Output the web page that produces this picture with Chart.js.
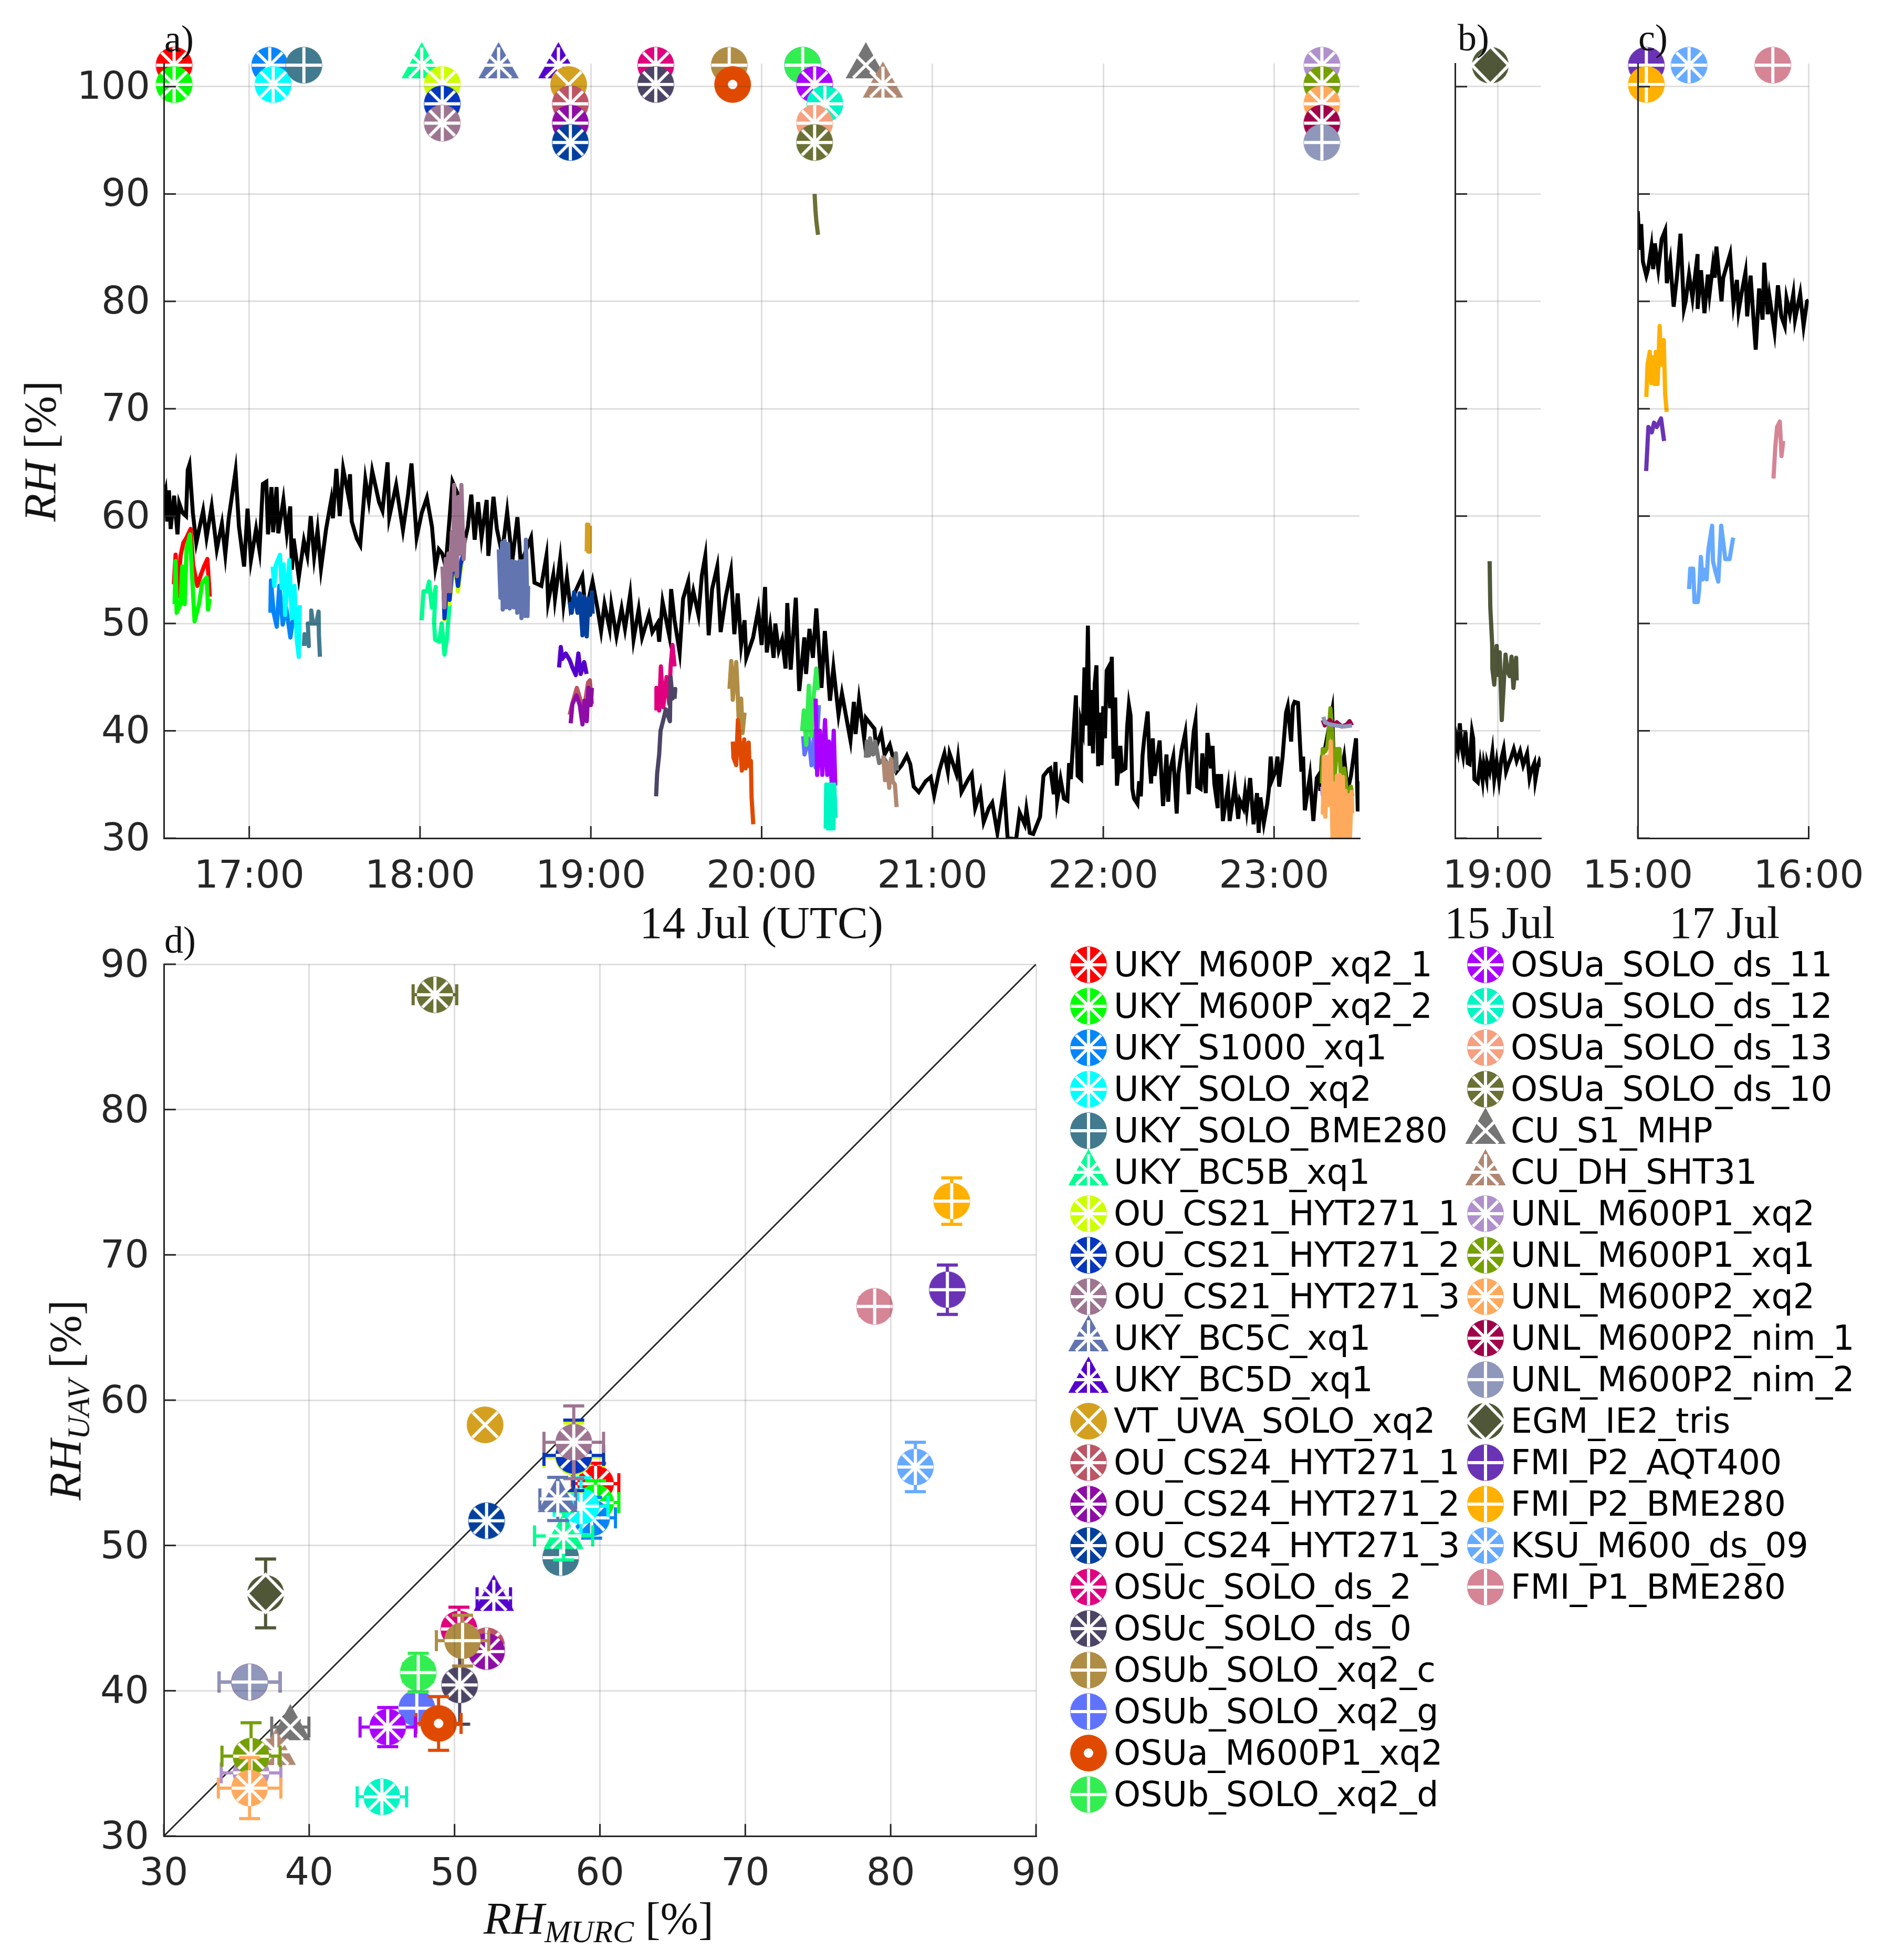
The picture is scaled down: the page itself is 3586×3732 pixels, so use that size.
<!DOCTYPE html>
<html>
<head>
<meta charset="utf-8">
<script src="https://cdn.jsdelivr.net/npm/chart.js@4"></script>
<style>
    body { margin: 0; background: #fff; width: 3586px; height: 3732px; position: relative; overflow: hidden; }
    canvas { position: absolute; }
    .serif { position: absolute; font-family: "Liberation Serif", serif; color: #111; line-height: 1; white-space: nowrap; }
    .axisName { font-size: 87px; transform: translate(-50%, -50%); }
    .axisName.turned { transform: translate(-50%, -50%) rotate(-90deg); }
    .axisName span { font-size: 60px; font-style: italic; position: relative; top: 16px; }
    .panelTag { font-size: 72px; }
    .row { position: absolute; height: 80px; font: 65px/80px "DejaVu Sans"; color: #000; white-space: nowrap; }
</style>
</head>
<body>
<canvas id="chartA"></canvas>
<canvas id="chartB"></canvas>
<canvas id="chartC"></canvas>
<canvas id="chartD"></canvas>
<div class="serif axisName turned" style="left:76px;top:859px"><i>RH</i> [%]</div>
<div class="serif axisName turned" style="left:124px;top:2666px"><i>RH</i><span>UAV</span> [%]</div>
<div class="serif axisName" style="left:1140px;top:3652px"><i>RH</i><span>MURC</span> [%]</div>
<div class="serif axisName" style="left:1450px;top:1756px">14 Jul (UTC)</div>
<div class="serif axisName" style="left:2856px;top:1756px">15 Jul</div>
<div class="serif axisName" style="left:3284px;top:1756px">17 Jul</div>
<div class="serif panelTag" style="left:313px;top:38px">a)</div>
<div class="serif panelTag" style="left:2776px;top:36px">b)</div>
<div class="serif panelTag" style="left:3120px;top:36px">c)</div>
<div class="serif panelTag" style="left:313px;top:1754px">d)</div>
<div id="legend"></div>
<script>
// tick labels
const hourTicksA = [17, 18, 19, 20, 21, 22, 23];
const hourTicksB = [19];
const hourTicksC = [15, 16];
const rhTicks = [30, 40, 50, 60, 70, 80, 90, 100];
const scatterTicks = [30, 40, 50, 60, 70, 80, 90];

const names = ['UKY_M600P_xq2_1', 'UKY_M600P_xq2_2', 'UKY_S1000_xq1', 'UKY_SOLO_xq2', 'UKY_SOLO_BME280', 'UKY_BC5B_xq1',
    'OU_CS21_HYT271_1', 'OU_CS21_HYT271_2', 'OU_CS21_HYT271_3', 'UKY_BC5C_xq1', 'UKY_BC5D_xq1', 'VT_UVA_SOLO_xq2',
    'OU_CS24_HYT271_1', 'OU_CS24_HYT271_2', 'OU_CS24_HYT271_3', 'OSUc_SOLO_ds_2', 'OSUc_SOLO_ds_0', 'OSUb_SOLO_xq2_c',
    'OSUb_SOLO_xq2_g', 'OSUa_M600P1_xq2', 'OSUb_SOLO_xq2_d', 'OSUa_SOLO_ds_11', 'OSUa_SOLO_ds_12', 'OSUa_SOLO_ds_13',
    'OSUa_SOLO_ds_10', 'CU_S1_MHP', 'CU_DH_SHT31', 'UNL_M600P1_xq2', 'UNL_M600P1_xq1', 'UNL_M600P2_xq2',
    'UNL_M600P2_nim_1', 'UNL_M600P2_nim_2', 'EGM_IE2_tris', 'FMI_P2_AQT400', 'FMI_P2_BME280', 'KSU_M600_ds_09', 'FMI_P1_BME280'];
const colors = ['#ff0000', '#00ff00', '#0685fa', '#00ffff', '#427a8f', '#00ff91',
    '#ccff00', '#0436bf', '#9e7590', '#6275b0', '#5500cc', '#d4a020',
    '#bd5565', '#8f0ca6', '#03409e', '#e0007f', '#4d4566', '#b08d45',
    '#6073ff', '#e04a00', '#33ee50', '#aa00ff', '#00f5c4', '#f5a080',
    '#6b7034', '#757575', '#b08872', '#b090cc', '#74a000', '#ffa95c',
    '#a0004a', '#8f97bb', '#4f5738', '#6a33b5', '#ffb000', '#66aaff', '#d58596'];
const shapes = ['o', 'o', 'o', 'o', 'o', '^', 'o', 'o', 'o', '^', '^', 'o', 'o', 'o', 'o', 'o', 'o', 'o', 'o',
    'o', 'o', 'o', 'o', 'o', 'o', '^', '^', 'o', 'o', 'o', 'o', 'o', 'o', 'o', 'o', 'o', 'o'];
const glyphs = ['*', '*', '*', '*', '+', '*', '*', '*', '*', '*', '*', 'x', '*', '*', '*', '*', '*', '+', '+',
    '.', '+', '*', '*', '*', '*', 'x', '*', '*', '*', '*', '*', '+', 'd', '+', '+', '*', '+'];

// reference sonde trace, one array per panel: [hour, RH]
const murcA = [[16.49,60.9],[16.51,62.3],[16.52,59.5],[16.53,62.4],[16.54,58.8],[16.56,61.9],[16.58,58.3],[16.59,61.2],[16.61,60.3],[16.63,60],[16.64,64.3],[16.65,64.8],
    [16.67,60.3],[16.69,57.5],[16.73,60.5],[16.75,58],[16.78,60.9],[16.81,56.9],[16.84,59.3],[16.86,56.4],[16.88,59.8],[16.92,64.2],[16.94,59],[16.97,55.3],[16.99,60.7],
    [17.01,55.9],[17.04,58.8],[17.06,56.8],[17.08,63],[17.1,63.2],[17.11,58.3],[17.13,62.7],[17.14,58.5],[17.16,62.7],[17.17,58.4],[17.2,61.5],[17.22,58.4],[17.24,60.9],
    [17.25,55],[17.26,57.9],[17.29,54.3],[17.32,57.7],[17.34,56.3],[17.36,60],[17.38,56.2],[17.4,58.7],[17.42,55.1],[17.45,58.8],[17.48,61.5],[17.49,59.8],[17.51,64.4],
    [17.53,60],[17.55,64.4],[17.58,61.9],[17.59,63.9],[17.6,59.5],[17.63,57.9],[17.65,57.3],[17.68,63.4],[17.7,61.4],[17.72,64.2],[17.76,61.3],[17.78,60.5],[17.81,65],
    [17.82,59.9],[17.86,62.9],[17.88,60.8],[17.9,58.7],[17.93,62],[17.95,64.9],[17.98,58],[18.01,60.3],[18.04,61.7],[18.07,59],[18.09,55.2],[18.11,56.9],[18.13,56.5],
    [18.15,55.3],[18.19,63.2],[18.23,61.7],[18.25,56.8],[18.28,59],[18.3,62],[18.32,57.8],[18.34,61.3],[18.36,58],[18.39,61.5],[18.4,56.3],[18.43,61.8],[18.45,58.8],
    [18.48,56.5],[18.51,60.4],[18.54,55.8],[18.57,59.9],[18.59,55.5],[18.62,56.8],[18.65,58],[18.67,53.8],[18.71,53.5],[18.74,56.3],[18.75,52],[18.78,54.5],[18.79,52.3],
    [18.82,56],[18.84,51.8],[18.86,54.3],[18.88,51.5],[18.91,53],[18.95,54.4],[18.97,51],[19.01,53.9],[19.04,51.3],[19.06,49.3],[19.08,51.8],[19.11,49.5],[19.12,51.7],
    [19.15,48.8],[19.18,51.4],[19.2,49.5],[19.23,52.7],[19.25,48.5],[19.28,51.3],[19.3,48.7],[19.34,50.8],[19.36,49.2],[19.39,50],[19.4,48.3],[19.42,52],[19.46,48.8],
    [19.47,53.2],[19.49,50.3],[19.52,47.3],[19.54,52.3],[19.57,53.9],[19.58,51.3],[19.6,53],[19.63,50.8],[19.65,54.5],[19.67,56.3],[19.69,48.9],[19.71,53.2],[19.74,55.3],
    [19.76,49.2],[19.79,52.5],[19.82,54.9],[19.84,49],[19.86,52.8],[19.88,48],[19.9,50.3],[19.91,46.8],[19.95,48.7],[19.98,51.3],[20,48],[20.02,53.4],[20.03,47.3],
    [20.05,49.7],[20.07,46.8],[20.08,50],[20.1,47.5],[20.12,48.5],[20.14,45.8],[20.15,51.9],[20.17,45.7],[20.2,52.4],[20.22,43.7],[20.25,48.7],[20.26,45.3],[20.28,49.5],
    [20.3,46.8],[20.32,51.4],[20.35,44],[20.37,49.3],[20.4,42.8],[20.42,45.9],[20.45,41.5],[20.47,43.5],[20.52,39.1],[20.54,42.7],[20.55,39.7],[20.57,42.9],[20.6,39.3],
    [20.61,41.2],[20.66,40.2],[20.67,38.5],[20.7,39.8],[20.72,37.8],[20.75,38.7],[20.79,36.2],[20.82,36.8],[20.85,37.7],[20.87,36.9],[20.89,34.8],[20.92,34.3],[20.96,35.3],
    [20.99,35.7],[21.01,34],[21.04,36.3],[21.07,37.9],[21.09,36.2],[21.1,37.9],[21.14,36],[21.15,37.4],[21.17,34.3],[21.21,35.5],[21.23,36],[21.25,32.8],[21.28,34.3],
    [21.3,31.5],[21.33,32.8],[21.35,33.3],[21.38,30.5],[21.42,34.8],[21.44,30],[21.49,29.9],[21.51,32.4],[21.54,31.3],[21.55,32.7],[21.57,30.5],[21.59,30.4],[21.63,32],
    [21.65,35.8],[21.68,36.4],[21.69,36.5],[21.71,34.1],[21.72,37.1],[21.73,33.5],[21.75,35.5],[21.77,33.7],[21.79,33.5],[21.8,37],[21.81,35.5],[21.82,38.1],[21.84,43.3],
    [21.85,35.8],[21.87,35.5],[21.87,40.7],[21.88,40],[21.89,45.9],[21.9,40.5],[21.91,49.8],[21.92,38.6],[21.93,43.8],[21.94,37.9],[21.95,44.4],[21.96,46.1],[21.97,36.7],
    [21.98,41.7],[21.99,36.8],[22,42.3],[22.01,39.3],[22.02,45.6],[22.03,45.9],[22.04,42.1],[22.05,46.9],[22.06,37.4],[22.07,43.1],[22.08,34.9],[22.1,38.6],[22.11,36.3],
    [22.13,36.5],[22.14,40.4],[22.15,42.4],[22.16,41.4],[22.17,34.6],[22.18,33.7],[22.2,33.2],[22.21,35.3],[22.22,33.9],[22.23,37.7],[22.24,39.3],[22.26,41.8],[22.27,37.4],
    [22.28,35.1],[22.29,39.3],[22.3,35.8],[22.33,39.1],[22.34,35.8],[22.35,33],[22.37,37.8],[22.38,33.4],[22.39,36.2],[22.41,37.6],[22.43,32.3],[22.44,36],[22.46,38.3],
    [22.48,39.8],[22.5,34.1],[22.51,36.3],[22.53,40],[22.54,40.9],[22.55,34.8],[22.57,34.6],[22.58,37.9],[22.6,34.2],[22.61,39.8],[22.63,36.5],[22.64,38.6],[22.65,35.1],
    [22.67,32.8],[22.67,35.8],[22.69,35.8],[22.7,31.6],[22.73,34.7],[22.74,31.6],[22.77,34.9],[22.79,31.8],[22.8,33.5],[22.82,32.8],[22.83,34.2],[22.84,32.7],[22.86,35.6],
    [22.88,31.3],[22.9,34.2],[22.91,30.5],[22.92,33.8],[22.94,31.4],[22.96,33.2],[22.97,34.6],[22.98,37.6],[22.99,35.5],[23.01,36.3],[23.02,37.6],[23.03,34.8],[23.05,37.6],
    [23.07,41.7],[23.08,42.3],[23.1,39],[23.11,42.3],[23.12,42.7],[23.14,42.6],[23.16,36.2],[23.17,37.6],[23.18,32.6],[23.21,35.8],[23.23,31.6],[23.25,35.6],[23.27,36.1],
    [23.27,34.4],[23.28,37.6],[23.3,38.5],[23.34,41.9],[23.35,36.7],[23.37,34.1],[23.41,37.6],[23.43,34.4],[23.45,35.8],[23.48,39.3],[23.49,32.5],[23.51,35.3]];
const murcB = [[18.746,37.4],[18.753,39.7],[18.767,38.4],[18.778,40.7],[18.787,38.6],[18.797,37.7],[18.811,39.9],[18.824,37],[18.835,36.9],[18.849,39.9],[18.856,39.3],[18.863,35.5],
    [18.883,35.2],[18.897,37],[18.911,35.4],[18.918,36.9],[18.934,35.6],[18.938,37],[18.952,36.2],[18.968,38],[18.979,35.5],[18.993,37.1],[19.007,35.4],[19.021,37.4],[19.034,38.3],
    [19.048,36.2],[19.062,36.9],[19.075,37.4],[19.093,38.3],[19.11,37.2],[19.13,38.1],[19.148,36.8],[19.171,37.9],[19.185,35.6],[19.195,36.3],[19.213,37],[19.219,35.4],[19.233,36.7],
    [19.243,37.2],[19.257,36.7]];
const murcC = [[15,88.4],[15.01,84.8],[15.02,87.2],[15.03,83.7],[15.05,82.4],[15.06,83],[15.08,85.1],[15.09,83],[15.1,85.4],[15.12,83],[15.14,85.8],[15.16,86.6],[15.17,81.7],[15.19,83.7],
    [15.21,79.5],[15.23,82.4],[15.25,86.3],[15.27,79.3],[15.28,80],[15.3,82.5],[15.32,80.3],[15.33,81.7],[15.35,84.4],[15.35,79.3],[15.37,82.9],[15.39,78.9],[15.41,82.5],[15.42,80.7],
    [15.44,83.4],[15.45,82.2],[15.46,85.1],[15.49,80],[15.5,82.2],[15.54,84.4],[15.56,79.8],[15.58,82],[15.59,79.1],[15.61,81],[15.63,82.7],[15.64,78.6],[15.66,82.4],[15.68,77.7],
    [15.69,75.5],[15.71,81.2],[15.73,78.3],[15.74,83.6],[15.76,78.8],[15.77,80.5],[15.8,77.2],[15.82,81.5],[15.84,78.6],[15.86,77.7],[15.87,80.3],[15.89,78.8],[15.91,80.7],[15.92,78.3],
    [15.95,80.7],[15.97,77.7],[15.99,80],[16,80.1]];

// UAV traces: [hour, RH]
const traceUky1 = [[16.559,53.65],[16.569,56.4],[16.578,52.5],[16.598,56.3],[16.614,57.5],[16.633,58],[16.657,58.8],[16.671,55.5],[16.696,53.5],[16.716,54.5],[16.735,55.3],[16.755,56],[16.769,52.5]];
const traceUky2 = [[16.563,51.8],[16.569,55.8],[16.575,51],[16.598,51.8],[16.608,55.3],[16.622,51.8],[16.633,57],[16.653,58.3],[16.667,54],[16.68,50.2],[16.706,51.8],[16.725,53.8],[16.751,54.3],[16.759,51.3],[16.769,52.3]];
const traceS1000 = [[17.124,51],[17.127,54],[17.143,51],[17.161,49.7],[17.176,53.5],[17.196,49.9],[17.216,51.5],[17.241,48.7],[17.255,50.3],[17.278,51.5]];
const traceSoloXq2 = [[17.137,55.3],[17.147,53.5],[17.157,55.5],[17.18,56.4],[17.19,53.3],[17.202,55.5],[17.21,50.8],[17.235,55.9],[17.249,50.5],[17.265,53.5],[17.278,48.5],[17.29,46.9],[17.296,51.7]];
const traceSoloBme = [[17.32,47.9],[17.324,49],[17.349,47.9],[17.343,50],[17.363,50],[17.363,51.2],[17.373,50],[17.392,50],[17.406,51.1],[17.408,48.9],[17.414,46.9]];
const traceBc5b = [[18.01,50.3],[18.02,53],[18.04,53],[18.053,53.9],[18.069,51.5],[18.092,53.4],[18.082,50.2],[18.088,48.5],[18.112,48.3],[18.127,50],[18.143,47.1],[18.157,48.5],[18.173,51.8]];
const traceCs21a = [[18.143,50.2],[18.157,53.8],[18.171,51.8],[18.19,54.3],[18.206,56.5],[18.222,53],[18.24,55.3],[18.255,56.5]];
const traceCs21b = [[18.137,53.8],[18.143,50.5],[18.157,53.3],[18.173,52.2],[18.196,56.5],[18.222,53.5],[18.237,55.5],[18.255,56.6]];
const traceCs21c = [[18.131,55.3],[18.143,51.5],[18.15,56],[18.157,53],[18.166,56.5],[18.176,53],[18.186,58.5],[18.193,55],[18.2,62.9],[18.204,56],[18.208,60],[18.212,56],[18.216,54.4],[18.222,60],[18.225,61.8],[18.23,56.5],[18.237,57],[18.242,62.9],[18.249,59],[18.255,56],[18.261,58]];
const traceBc5c = [[18.461,56.9],[18.471,52.4],[18.48,57.5],[18.484,51.3],[18.496,57.7],[18.504,51.5],[18.516,57.4],[18.525,51.4],[18.539,55.8],[18.549,51.5],[18.559,55.7],[18.569,51],[18.582,55.8],[18.594,50.5],[18.602,55.8],[18.614,50.7],[18.62,57.8],[18.629,50.7],[18.633,53.5]];
const traceBc5d = [[18.814,45.9],[18.824,47.8],[18.833,46.7],[18.853,47.2],[18.876,46.6],[18.892,45.9],[18.912,45.2],[18.927,47.2],[18.941,45.3],[18.961,46.4],[18.975,45.3]];
const traceVt = [[18.976,56.7],[18.978,59.2],[18.985,59.2],[18.985,56.7],[18.994,56.7],[18.994,59.1]];
const traceCs24a = [[18.876,41.5],[18.896,42.8],[18.918,44],[18.941,42.8],[18.951,41.5],[18.967,42.8],[18.984,44.5],[18.994,44.7],[19.006,42.5]];
const traceCs24b = [[18.882,40.7],[18.892,42.5],[18.916,43.3],[18.935,42.4],[18.951,40.6],[18.963,42.8],[18.976,40.9],[18.986,44],[19,42.4],[19.006,44]];
const traceCs24c = [[18.876,52],[18.888,51],[18.902,52.9],[18.922,51],[18.935,52.8],[18.951,48.9],[18.961,52.5],[18.976,48.8],[18.986,52.3],[18.996,50.8],[19.006,52.9],[19.01,50.9]];
const traceOsucDs2 = [[19.384,41.9],[19.384,44],[19.4,41.9],[19.41,46],[19.424,42.2],[19.443,45],[19.459,42.5],[19.467,46],[19.478,48],[19.49,46]];
const traceOsucDs0 = [[19.382,33.9],[19.388,36],[19.4,37.8],[19.408,40],[19.424,41],[19.439,42],[19.463,40.9],[19.467,45],[19.478,43],[19.494,43.9],[19.49,43]];
const traceOsubC = [[19.812,43.9],[19.822,46.5],[19.831,42.9],[19.851,46.4],[19.859,43.9],[19.865,41.3],[19.88,43],[19.888,39.8],[19.9,41.7]];
const traceOsubG = [[20.243,39.5],[20.251,37.8],[20.276,39.3],[20.292,36.8],[20.31,40],[20.316,36.6],[20.335,42.4]];
const traceOsuaM600 = [[19.831,39],[19.835,37.5],[19.851,36.8],[19.861,41],[19.871,39.2],[19.884,36.3],[19.898,39.2],[19.906,36.5],[19.924,38.9],[19.929,36.7],[19.937,37.2],[19.941,33.8],[19.951,31.3]];
const traceOsubD = [[20.237,40],[20.247,41.9],[20.261,38.7],[20.276,44.2],[20.29,39.5],[20.306,43.5],[20.32,45.8],[20.329,43.8]];
const traceDs11 = [[20.316,43],[20.325,35.9],[20.341,40],[20.355,35.9],[20.371,41],[20.384,35.9],[20.394,39],[20.41,35.2],[20.422,40],[20.431,34.9]];
const traceDs12 = [[20.375,30.9],[20.378,35],[20.388,30.9],[20.394,35],[20.404,30.9],[20.41,35],[20.42,30.9],[20.425,35],[20.433,31.9]];
const traceDs13 = [];
const traceDs10 = [[20.31,90],[20.315,88.5],[20.32,87.5],[20.33,86.2]];
const traceCuS1 = [[20.61,37.5],[20.616,39],[20.629,37.7],[20.635,39.3],[20.653,37.8],[20.665,39],[20.688,37],[20.718,37.4],[20.747,36.7],[20.776,36.2],[20.786,37.9],[20.792,36.3]];
const traceCuDh = [[20.712,37.7],[20.722,35.4],[20.733,37],[20.747,34.7],[20.757,37.4],[20.767,35.3],[20.78,35],[20.79,32.9]];
const traceUnlXq2 = [[23.28,34.8],[23.285,34],[23.29,36]];
const traceUnlXq1 = [[23.279,35.1],[23.285,38.3],[23.3,38.1],[23.312,38.6],[23.32,40],[23.33,42.1],[23.34,40],[23.352,35.1],[23.367,38.3],[23.383,38.3],[23.391,35.8],[23.411,36.5],[23.426,34.4],[23.432,33.2],[23.45,34.8],[23.458,33.9]];
const traceP2Xq2 = [[23.285,32.2],[23.293,37.6],[23.3,32],[23.31,37.6],[23.32,33.1],[23.332,39],[23.342,30],[23.35,35.1],[23.36,30],[23.367,35.8],[23.373,30],[23.383,35.9],[23.391,30],[23.403,35.7],[23.411,30],[23.418,34.4],[23.426,30],[23.438,34],[23.444,30],[23.454,34.3],[23.458,32.3]];
const traceNim1 = [[23.285,41],[23.297,40.5],[23.326,41],[23.35,40.5],[23.367,40.8],[23.397,40.4],[23.426,40.6],[23.442,40.9],[23.456,40.5]];
const traceNim2 = [[23.289,41.3],[23.297,40.8],[23.326,40.6],[23.362,40.5],[23.409,40.4],[23.456,40.5]];
const traceEgm = [[18.952,55.8],[18.956,51.5],[18.967,48],[18.968,45.8],[18.979,44.3],[18.993,47.9],[19.003,45.2],[19.011,47.3],[19.023,41],[19.037,45.1],[19.045,47.1],[19.055,45.6],[19.069,45.1],[19.08,46.9],[19.091,44],[19.107,46.8],[19.11,44.7]];
const traceAqt = [[15.049,64.2],[15.062,68.3],[15.082,67.8],[15.095,68.7],[15.111,68.3],[15.136,69.1],[15.154,67]];
const traceP2Bme = [[15.05,71.1],[15.057,74.1],[15.07,75.3],[15.079,72.4],[15.087,74.8],[15.098,72.3],[15.106,75.3],[15.116,72.3],[15.128,77.7],[15.136,74.1],[15.152,76.4],[15.16,71.4],[15.169,69.7]];
const traceKsu = [[15.3,53.2],[15.307,55.1],[15.324,55.1],[15.332,52],[15.351,52],[15.359,53.1],[15.369,56.2],[15.379,54.1],[15.392,55],[15.403,54.1],[15.41,56.2],[15.414,57],[15.435,59.1],[15.44,55.8],[15.452,55],[15.471,53.9],[15.488,59.1],[15.512,56],[15.537,56],[15.558,58]];
const traceP1Bme = [[15.794,63.5],[15.804,66.3],[15.815,68.3],[15.831,68.8],[15.841,65.6],[15.851,67]];

const traces = [traceUky1, traceUky2, traceS1000, traceSoloXq2, traceSoloBme, traceBc5b, traceCs21a, traceCs21b, traceCs21c, traceBc5c, traceBc5d, traceVt,
    traceCs24a, traceCs24b, traceCs24c, traceOsucDs2, traceOsucDs0, traceOsubC, traceOsubG, traceOsuaM600, traceOsubD, traceDs11, traceDs12, traceDs13,
    traceDs10, traceCuS1, traceCuDh, traceUnlXq2, traceUnlXq1, traceP2Xq2, traceNim1, traceNim2, traceEgm, traceAqt, traceP2Bme, traceKsu, traceP1Bme];

// which time panel each instrument sits in, and its flag marker above the traces
const panels = 'aaaaaaaaaaaaaaaaaaaaaaaaaaaaaaaabcccc'.split('');
const flagHour = [16.56, 16.56, 17.12, 17.14, 17.32, 18.01, 18.13, 18.13, 18.13, 18.46, 18.81, 18.87, 18.88, 18.88, 18.88, 19.38, 19.38, 19.81, 20.24,
    19.83, 20.24, 20.31, 20.37, 20.31, 20.31, 20.61, 20.71, 23.28, 23.28, 23.28, 23.28, 23.28, 18.956, 15.05, 15.05, 15.3, 15.79];
const flagRh = [102, 100.2, 102, 100.2, 102, 102, 100.2, 98.4, 96.6, 102, 102, 100.2, 98.4, 96.6, 94.8, 102, 100.2, 102, 102,
    100.2, 102, 100.2, 98.4, 96.6, 94.8, 102, 100.2, 102, 100.2, 98.4, 96.6, 94.8, 102, 102, 100.2, 102, 102];

// panel d: mean RH pairs with their spreads
const rhMurc = [59.7, 59.7, 59.43, 58.7, 57.3, 57.5, 58.2, 58.2, 58.2, 57.1, 52.7, 52.1, 52.2, 52.2, 52.2, 50.3, 50.35, 50.55, 47.4,
    48.9, 47.5, 45.4, 45, null, 48.65, 38.7, 37.7, 36, 36, 35.9, 35.9, 35.9, 37, 83.9, 84.2, 81.7, 78.9];
const rhUav = [54.25, 52.95, 51.9, 52.7, 49.16, 50.66, 56.08, 56.2, 57.1, 53.2, 46.4, 58.3, 43.1, 42.7, 51.7, 44.25, 40.4, 43.45, 38.8,
    37.75, 41.25, 37.5, 32.7, null, 87.9, 37.5, 35.8, 34.35, 35.5, 33.3, 40.6, 40.6, 46.7, 67.6, 73.7, 55.4, 66.45];
const errMurc = [1.6, 1.6, 1.64, 1.85, 0.5, 2, 2.05, 2.05, 2.05, 1.23, 1.15, 0, 0.5, 0.5, 0, 0.5, 0.5, 1.8, 0.7,
    1.55, 1, 1.9, 1.7, 0, 1.5, 1.28, 0.5, 2.05, 2, 2.15, 2.1, 2.1, 0.5, 0.8, 0.8, 0.8, 1];
const errUav = [1.4, 1.5, 1.4, 1.96, 0.5, 1.66, 2.35, 2.43, 2.5, 1.49, 0.6, 0, 0.5, 0.5, 0, 1.5, 2.7, 1.75, 0.7,
    1.85, 1.33, 1.35, 0.5, 0, 0.5, 0.5, 0.8, 0.5, 2.3, 2.1, 0.5, 0.5, 2.37, 1.7, 1.6, 1.7, 0.9];
const oneToOne = [30, 90];

const inkColor = '#262626';
const gridColor = 'rgba(38,38,38,0.15)';

// a filled marker with white strokes, used as the Chart.js pointStyle
const makeMarker = (color, shape, glyph) => {
    const c = document.createElement('canvas');
    c.width = 100;
    c.height = 100;
    const g = c.getContext('2d');
    g.translate(50, 50);
    g.fillStyle = color;
    g.beginPath();
    if (shape === '^') {
        g.moveTo(0, -44);
        g.lineTo(38.5, 25);
        g.lineTo(-38.5, 25);
        g.closePath();
    } else {
        g.arc(0, 0, 35, 0, Math.PI * 2);
    }
    g.fill();
    g.strokeStyle = '#fff';
    g.lineWidth = 6;
    const stroke = (dx, dy) => {
        g.beginPath();
        g.moveTo(-dx, -dy);
        g.lineTo(dx, dy);
        g.stroke();
    };
    if (glyph === '*' || glyph === '+') {
        stroke(34, 0);
        stroke(0, 34);
    }
    if (glyph === '*' || glyph === 'x') {
        stroke(24, 24);
        stroke(24, -24);
    }
    if (glyph === '.') {
        g.fillStyle = '#fff';
        g.beginPath();
        g.arc(0, 0, 9, 0, Math.PI * 2);
        g.fill();
    }
    if (glyph === 'd') {
        g.fillStyle = color;
        g.beginPath();
        g.moveTo(0, -36);
        g.lineTo(35, 0);
        g.lineTo(0, 36);
        g.lineTo(-35, 0);
        g.closePath();
        g.fill();
        g.stroke();
    }
    return c;
};
const markers = names.map((n, i) => makeMarker(colors[i], shapes[i], glyphs[i]));

const hourLabel = (v) => `${v}:00`;
const rhLabel = (v) => v;

const inwardTicks = {
    id: 'inwardTicks',
    afterDatasetsDraw(chart) {
        const { ctx, chartArea, scales } = chart;
        ctx.save();
        ctx.strokeStyle = inkColor;
        ctx.lineWidth = 3;
        scales.x.ticks.forEach((t) => {
            const px = scales.x.getPixelForValue(t.value);
            ctx.beginPath();
            ctx.moveTo(px, chartArea.bottom);
            ctx.lineTo(px, chartArea.bottom - 23);
            ctx.stroke();
        });
        scales.y.ticks.forEach((t) => {
            const py = scales.y.getPixelForValue(t.value);
            ctx.beginPath();
            ctx.moveTo(chartArea.left, py);
            ctx.lineTo(chartArea.left + 23, py);
            ctx.stroke();
        });
        ctx.restore();
    }
};

// error bars go under each dataset's own marker but over the earlier ones
const errorBars = {
    id: 'errorBars',
    beforeDatasetDraw(chart, args) {
        const i = chart.data.datasets[args.index].instrument;
        if (i === undefined || rhMurc[i] === null) {
            return;
        }
        const { ctx, scales } = chart;
        const px = (v) => scales.x.getPixelForValue(v);
        const py = (v) => scales.y.getPixelForValue(v);
        const line = (x1, y1, x2, y2) => {
            ctx.beginPath();
            ctx.moveTo(x1, y1);
            ctx.lineTo(x2, y2);
            ctx.stroke();
        };
        ctx.save();
        ctx.strokeStyle = colors[i];
        ctx.lineWidth = 6;
        if (errMurc[i]) {
            const x0 = px(rhMurc[i] - errMurc[i]);
            const x1 = px(rhMurc[i] + errMurc[i]);
            const y = py(rhUav[i]);
            line(x0, y, x1, y);
            line(x0, y - 20, x0, y + 20);
            line(x1, y - 20, x1, y + 20);
        }
        if (errUav[i]) {
            const y0 = py(rhUav[i] - errUav[i]);
            const y1 = py(rhUav[i] + errUav[i]);
            const x = px(rhMurc[i]);
            line(x, y0, x, y1);
            line(x - 20, y0, x + 20, y0);
            line(x - 20, y1, x + 20, y1);
        }
        ctx.restore();
    }
};

const makeScale = (min, max, tickValues, boxSize, tickPad, label, showLabels = true) => {
    return {
        type: 'linear',
        min,
        max,
        afterBuildTicks(scale) {
            scale.ticks = tickValues.map((value) => ({ value }));
        },
        afterFit(scale) {
            if (scale.isHorizontal()) {
                scale.height = boxSize;
            } else {
                scale.width = boxSize;
            }
        },
        grid: { color: gridColor, lineWidth: 3, drawTicks: false, z: 1 },
        border: { color: inkColor, width: 3, z: 1 },
        ticks: {
            display: showLabels,
            autoSkip: false,
            maxRotation: 0,
            padding: tickPad,
            labelOffset: 0,
            color: inkColor,
            font: { family: 'DejaVu Sans', size: 73 },
            callback: label
        }
    };
};

const makeChart = (id, box, padding, x, y, datasets) => {
    const canvas = document.getElementById(id);
    canvas.style.left = `${box[0]}px`;
    canvas.style.top = `${box[1]}px`;
    canvas.width = box[2];
    canvas.height = box[3];
    return new Chart(canvas, {
        type: 'scatter',
        data: { datasets },
        options: {
            animation: false,
            responsive: false,
            devicePixelRatio: 1,
            events: [],
            layout: { autoPadding: false, padding },
            scales: { x, y },
            plugins: { legend: { display: false }, tooltip: { enabled: false } }
        },
        plugins: [inwardTicks, errorBars]
    });
};

const toPoints = (pairs) => pairs.map(([x, y]) => ({ x, y }));

// datasets for a time panel: black trace, instrument traces, then flag markers
const timeDatasets = (panel, murc) => {
    const list = [{ data: toPoints(murc), showLine: true, pointRadius: 0, borderColor: '#000', borderWidth: 7.5 }];
    names.forEach((n, i) => {
        if (panels[i] === panel) {
            list.push({ label: n, data: toPoints(traces[i]), showLine: true, pointRadius: 0, borderColor: colors[i], borderWidth: 8, borderJoinStyle: 'round' });
        }
    });
    names.forEach((n, i) => {
        if (panels[i] === panel) {
            list.push({ label: n, data: [{ x: flagHour[i], y: flagRh[i] }], pointStyle: markers[i], pointRadius: 35, clip: false });
        }
    });
    list.forEach((d, i) => { d.order = -i; });
    return list;
};

const rhScale = (boxSize, tickPad, showLabels) => {
    const scale = makeScale(30, 102.15, rhTicks, boxSize, tickPad, rhLabel, showLabels);
    scale.ticks.labelOffset = 4;
    return scale;
};

makeChart('chartA', [0, 0, 2620, 1820], { top: 121, right: 31 },
    makeScale(16.5, 23.5, hourTicksA, 224, 31, hourLabel),
    rhScale(312, 26, true), timeDatasets('a', murcA));

makeChart('chartB', [2651, 0, 403, 1820], { top: 121, right: 120 },
    makeScale(18.75, 19.25, hourTicksB, 224, 31, hourLabel),
    rhScale(120, 26, false), timeDatasets('b', murcB));

makeChart('chartC', [2975, 0, 611, 1820], { top: 121, right: 141.5 },
    makeScale(15, 16, hourTicksC, 224, 31, hourLabel),
    rhScale(144, 26, false), timeDatasets('c', murcC));

const scatterDatasets = [{
    data: oneToOne.map((v) => ({ x: v, y: v })), showLine: true, pointRadius: 0, borderColor: inkColor, borderWidth: 3
}];
names.forEach((n, i) => {
    if (rhMurc[i] !== null) {
        scatterDatasets.push({ label: n, instrument: i, data: [{ x: rhMurc[i], y: rhUav[i] }], pointStyle: markers[i], pointRadius: 35, clip: false });
    }
});
scatterDatasets.forEach((d, i) => { d.order = -i; });

const scatterY = makeScale(30, 90, scatterTicks, 312, 28, rhLabel);
scatterY.ticks.labelOffset = 5;
makeChart('chartD', [0, 1700, 2063, 2032], { top: 136, right: 90 },
    makeScale(30, 90, scatterTicks, 236, 30, rhLabel), scatterY, scatterDatasets);

// legend rows, two columns
const legend = document.getElementById('legend');
names.forEach((n, i) => {
    const col = i < 21 ? 0 : 1;
    const rowIndex = col === 0 ? i : i - 21;
    const centerY = 1837 + rowIndex * 79;
    const iconX = col === 0 ? 2073 : 2829;
    const icon = document.createElement('canvas');
    icon.width = 100;
    icon.height = 100;
    icon.style.left = `${iconX - 50}px`;
    icon.style.top = `${centerY - 50}px`;
    icon.getContext('2d').drawImage(markers[i], 0, 0);
    legend.appendChild(icon);
    const row = document.createElement('div');
    row.className = 'row';
    row.style.left = `${iconX + 48}px`;
    row.style.top = `${centerY - 40}px`;
    row.textContent = n;
    legend.appendChild(row);
});
</script>
</body>
</html>
